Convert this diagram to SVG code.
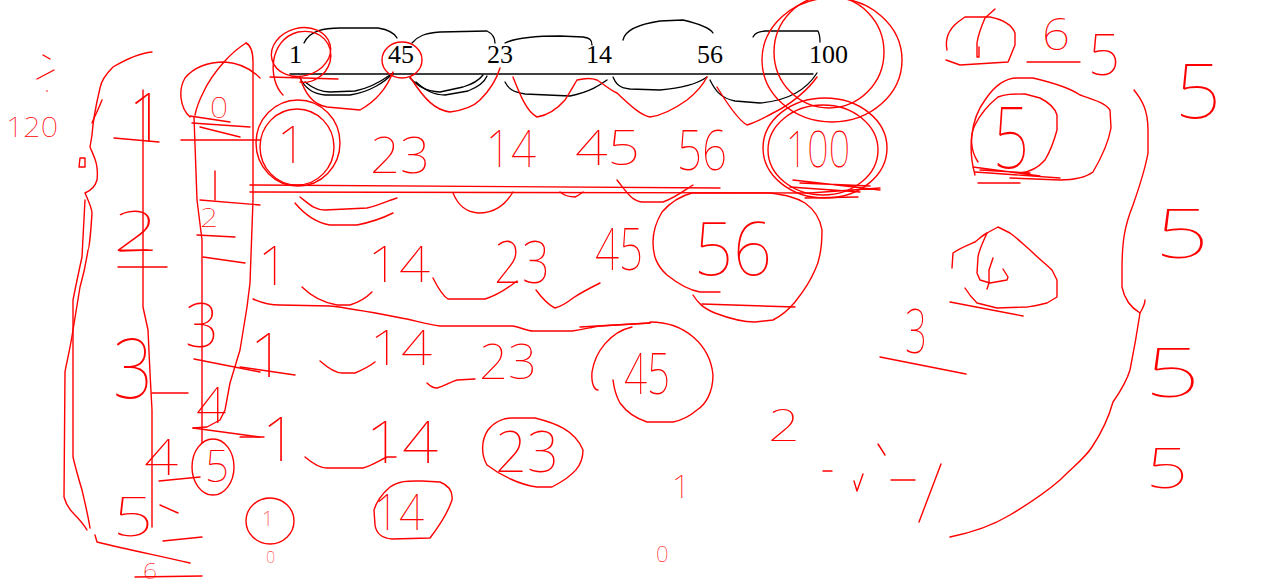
<svg xmlns="http://www.w3.org/2000/svg" width="1261" height="586" viewBox="0 0 1261 586">
<style>
.r{fill:none;stroke:#ff0000;stroke-width:1.4;stroke-linecap:round;stroke-linejoin:round}
.k{fill:none;stroke:#000;stroke-width:1.3;stroke-linecap:round;stroke-linejoin:round}
.t{font-family:"Liberation Serif",serif;font-size:26px;fill:#000}
.h{font-family:"Noto Sans","DejaVu Sans",sans-serif;font-weight:100;fill:#ff0000}
</style>
<rect width="1261" height="586" fill="#fff"/>
<g id="printed-row">
<text class="t" x="289" y="63">1</text>
<text class="t" x="388" y="63">45</text>
<text class="t" x="487" y="63">23</text>
<text class="t" x="586" y="63">14</text>
<text class="t" x="697" y="63">56</text>
<text class="t" x="809" y="63">100</text>
</g>
<g id="connectors">
<path class="k" d="M290 74 L813 74"/>
<path class="k" d="M304 43 C310 30 325 28 340 28 L378 28 C390 30 395 34 397 38"/>
<path class="k" d="M412 43 C418 36 425 33 440 32 L487 31 C493 34 495 38 495 43"/>
<path class="k" d="M505 43 C515 38 535 36 560 36 L583 37 C590 38 592 40 592 45"/>
<path class="k" d="M623 40 C625 30 640 24 660 21 L683 20 C700 24 710 28 713 33"/>
<path class="k" d="M753 37 C755 33 758 32 765 31 L818 31 C820 35 820 38 820 42"/>
<path class="k" d="M300 78 C305 88 312 94 325 95 L350 95 C370 92 385 82 393 73"/>
<path class="k" d="M305 82 C315 90 322 92 330 92 L355 91 C370 88 383 80 390 75"/>
<path class="k" d="M410 78 C418 86 425 91 440 92 L463 87 C473 84 480 79 483 75"/>
<path class="k" d="M416 82 C425 90 433 95 445 95 L468 91 C478 87 485 81 487 76"/>
<path class="k" d="M505 82 C508 88 512 92 525 94 L570 96 C590 92 600 85 607 80"/>
<path class="k" d="M613 77 C615 82 618 88 630 89 L660 90 C685 88 700 82 707 77"/>
<path class="k" d="M710 80 C715 90 720 98 735 101 L760 103 C785 101 805 92 817 73"/>
</g>
<g id="scribbles">
<ellipse class="r" cx="301" cy="52" rx="30" ry="24" transform="rotate(-15 301 52)"/>
<path class="r" d="M283 95 C268 80 268 40 298 32 C322 28 334 45 330 62 C326 76 312 84 300 82"/>
<ellipse class="r" cx="402" cy="60" rx="20" ry="18"/>
<path class="r" d="M270 77 L338 79"/>
<path class="r" d="M300 77 C305 95 315 105 327 107 L360 110 C378 100 388 85 393 72"/>
<path class="r" d="M410 77 C425 100 435 110 450 112 C465 110 475 105 480 100 C490 90 497 78 500 68"/>
<path class="r" d="M513 77 C520 95 527 112 537 117 C550 115 558 108 565 100 C570 92 574 85 577 80 C585 78 592 78 597 80 C605 85 610 90 617 93 C630 105 640 115 650 117 C665 115 680 105 687 100 C697 92 703 85 707 77"/>
<path class="r" d="M717 87 C728 105 738 120 747 125 C758 122 765 117 773 113 C790 105 808 90 817 77"/>
<ellipse class="r" cx="832" cy="60" rx="70" ry="62"/>
<ellipse class="r" cx="829" cy="52" rx="55" ry="56"/>
<ellipse class="r" cx="825" cy="148" rx="62" ry="50"/>
<ellipse class="r" cx="823" cy="150" rx="55" ry="45"/>
<path class="r" d="M793 180 L880 190 M800 183 L870 186 M790 187 L860 192 M810 193 L880 188 M805 198 L858 197"/>
<ellipse class="r" cx="298" cy="143" rx="42" ry="43"/>
<ellipse class="r" cx="297" cy="147" rx="37" ry="38"/>
<path class="r" d="M250 185 L720 188 M250 192 L810 193"/>
<path class="r" d="M295 203 C305 215 318 223 330 225 L357 225 C372 222 385 217 393 213"/>
<path class="r" d="M300 197 C310 205 315 210 325 210 L367 208 C380 205 390 200 397 198"/>
<path class="r" d="M453 193 C458 205 465 212 478 213 C495 213 505 205 513 192"/>
<path class="r" d="M560 192 C565 196 570 197 575 197 C578 196 580 194 583 192"/>
<path class="r" d="M617 180 C625 190 632 202 643 202 L663 202 C675 198 685 190 693 185"/>
<path class="r" d="M302 287 C310 295 320 302 337 305 L350 305 C360 302 367 297 372 292"/>
<path class="r" d="M433 278 C438 288 443 296 448 299 L485 299 C498 295 508 288 517 281"/>
<path class="r" d="M536 290 C542 298 548 305 555 308 C562 306 568 302 573 298 C582 292 592 287 600 283"/>
<path class="r" d="M253 299 C260 302 268 305 280 305 L330 306 C350 308 370 312 407 319 C420 322 430 325 440 326 L513 326 C522 328 528 331 533 331 L572 331 C585 329 592 327 600 326 L650 323"/>
<path class="r" d="M692 193 C680 196 670 203 662 212 C656 222 653 232 653 242 C653 255 656 265 667 275 C677 283 688 290 700 292 L720 292"/>
<path class="r" d="M693 295 C698 303 703 308 715 313 C728 318 740 322 755 322 L773 320 C783 315 790 308 795 302 C803 292 810 282 815 270 C820 260 822 245 822 230 C820 218 815 210 805 203 C795 197 785 195 770 193 L693 193"/>
<path class="r" d="M702 304 L795 307"/>
<path class="r" d="M240 367 L295 375"/>
<path class="r" d="M320 361 C328 368 335 373 342 373 L355 373 C362 370 370 366 375 362"/>
<path class="r" d="M427 383 C430 386 434 388 437 388 C445 386 450 382 457 380 L475 379"/>
<path class="r" d="M632 327 C610 332 595 352 592 372 C591 385 595 390 598 390"/>
<path class="r" d="M650 322 C685 322 710 345 713 375 C713 393 705 405 697 410 C690 416 683 420 673 422 L647 422 C635 418 625 410 620 403 C616 396 614 388 613 380"/>
<path class="r" d="M580 327 L650 323"/>
<path class="r" d="M240 437 L264 437"/>
<path class="r" d="M305 457 C312 463 320 468 327 468 L363 468 C373 465 380 460 387 457 L396 457"/>
<path class="r" d="M488 430 C495 421 505 418 512 418 L535 418 C555 423 575 430 583 450 C583 465 575 475 552 487 L537 487 C520 485 500 475 487 465 C481 455 481 440 488 430 Z"/>
<ellipse class="r" cx="270" cy="521" rx="24" ry="23"/>
<path class="r" d="M390 487 C400 480 410 481 422 481 L440 482 C450 486 453 492 452 500 C448 512 440 525 430 538 L392 539 C380 538 376 532 375 525 L374 510 C377 500 383 493 390 487 Z"/>
<path class="r" d="M152 52 C140 53 125 60 113 67 C106 74 101 82 100 88 C96 105 93 120 92 135 L90 147 C93 155 99 163 97 180 C95 187 90 191 85 193 C88 200 92 208 92 213 C91 230 89 250 88 250 C85 270 82 280 80 287 C77 305 75 318 73 330 C70 350 66 365 65 372 L64 497 C66 505 70 510 74 514 C80 520 84 525 87 530"/>
<path class="r" d="M102 100 C98 110 94 118 92 123 M85 200 L82 257 C78 275 75 290 73 300 L73 457 C76 470 79 480 82 490 C85 503 88 515 90 528"/>
<path class="r" d="M80 158 L85 158 L85 167 L79 167 Z"/>
<path class="r" d="M143 90 L143 307 L148 330 L150 373 L152 410 L152 527"/>
<path class="r" d="M114 138 L159 142"/>
<path class="r" d="M194 117 L197 200 L202 240 L202 443"/>
<path class="r" d="M215 171 L215 200"/>
<path class="r" d="M246 43 C238 48 232 53 224 62 C215 72 208 82 203 93 C198 103 196 110 195 115"/>
<path class="r" d="M246 43 C250 45 253 52 253 62 L253 200 L250 283 L247 307 L240 350 L230 383 L225 410 L220 420 L207 427 L193 428"/>
<path class="r" d="M190 117 C180 108 178 90 185 78 C195 66 210 62 225 62 C240 63 252 70 260 78"/>
<path class="r" d="M190 116 L230 122 M192 123 L250 127 M200 127 L240 137 M181 140 L260 140 M200 200 L260 205 M197 235 L235 237 M203 257 L245 263 M194 359 L260 372 M193 428 L260 437"/>
<path class="r" d="M118 267 L167 267 M120 251 L148 250 M152 393 L188 393 M159 481 L200 477 M160 505 L178 513 M163 541 L202 537 M135 577 L202 576"/>
<path class="r" d="M95 535 L97 542 C130 550 160 556 190 563"/>
<ellipse class="r" cx="213" cy="467" rx="21" ry="28"/>
<path class="r" d="M43 55 L50 59 M37 79 L54 70"/>
<circle cx="47" cy="91" r="0.8" fill="#ff0000"/>
<path class="r" d="M947 50 C945 40 948 30 958 22 L965 17 L990 17 C1005 20 1012 25 1015 33 L1015 45 C1012 52 1010 58 1008 62 L960 65 L946 60"/>
<path class="r" d="M995 9 L985 18 C982 25 978 35 977 43 L977 57 L979 57 L979 47"/>
<path class="r" d="M1027 62 L1080 62"/>
<path class="r" d="M975 175 C968 150 970 120 985 100 C995 85 1005 78 1017 78 L1033 78 C1050 82 1070 88 1080 95 C1095 100 1105 103 1110 110 L1111 128 C1108 145 1100 160 1093 172 C1085 178 1075 180 1060 180 L1010 178"/>
<path class="r" d="M978 162 C970 150 970 135 975 125 C980 115 988 105 998 97 C1005 94 1012 94 1025 94 L1040 98 C1050 103 1055 108 1057 115 L1057 130 C1053 145 1048 155 1045 160 C1038 168 1030 172 1020 173"/>
<path class="r" d="M973 167 L1040 176 M975 172 L1060 178 M978 183 L1020 183 M980 170 L1030 173"/>
<path class="r" d="M952 268 L953 253 C960 248 968 245 975 242 C980 238 983 235 987 233 L998 227 L1010 233 C1017 238 1023 244 1030 250 C1038 258 1046 264 1052 270 L1057 280 L1057 297 L1047 303 C1040 305 1033 306 1027 307 L997 308 L977 303 C972 298 968 293 965 288"/>
<path class="r" d="M987 233 C983 242 979 250 978 257 L977 273 L980 280 L990 283 L1007 280 L1008 277 L1003 269"/>
<path class="r" d="M993 258 L989 270 L989 283 L987 289"/>
<path class="r" d="M950 302 L1023 316"/>
<path class="r" d="M880 357 L966 374"/>
<path class="r" d="M1134 90 C1142 100 1148 110 1148 130 L1148 153 C1145 170 1140 185 1133 205 C1125 225 1122 240 1122 270 L1122 287 C1124 297 1130 307 1140 313 C1143 308 1145 303 1145 300"/>
<path class="r" d="M1140 313 C1137 333 1134 350 1130 370 C1127 380 1120 392 1113 402 C1108 420 1100 435 1092 447 C1085 458 1075 465 1060 480 C1045 493 1030 503 1010 515 C990 527 970 533 950 537"/>
<path class="r" d="M878 444 L885 455 M823 471 L832 471 M854 481 L857 491 L863 474 M891 480 L915 480 M941 464 L930 493 L919 522"/>
</g>
<g id="handwritten">
<text class="h" x="277" y="163" font-size="52">1</text>
<text class="h" x="370" y="173" font-size="50" textLength="60" lengthAdjust="spacingAndGlyphs">23</text>
<text class="h" x="486" y="167" font-size="52" textLength="50" lengthAdjust="spacingAndGlyphs">14</text>
<text class="h" x="575" y="165" font-size="48" textLength="65" lengthAdjust="spacingAndGlyphs">45</text>
<text class="h" x="677" y="170" font-size="56" textLength="50" lengthAdjust="spacingAndGlyphs">56</text>
<text class="h" x="786" y="167" font-size="50" textLength="64" lengthAdjust="spacingAndGlyphs">100</text>
<text class="h" x="258" y="285" font-size="54">1</text>
<text class="h" x="368" y="282" font-size="50" textLength="62" lengthAdjust="spacingAndGlyphs">14</text>
<text class="h" x="494" y="283" font-size="60" textLength="56" lengthAdjust="spacingAndGlyphs">23</text>
<text class="h" x="595" y="270" font-size="60" textLength="48" lengthAdjust="spacingAndGlyphs">45</text>
<text class="h" x="694" y="275" font-size="74" textLength="78" lengthAdjust="spacingAndGlyphs">56</text>
<text class="h" x="250" y="377" font-size="62">1</text>
<text class="h" x="370" y="365" font-size="48" textLength="62" lengthAdjust="spacingAndGlyphs">14</text>
<text class="h" x="479" y="379" font-size="48" textLength="58" lengthAdjust="spacingAndGlyphs">23</text>
<text class="h" x="624" y="394" font-size="58" textLength="46" lengthAdjust="spacingAndGlyphs">45</text>
<text class="h" x="262" y="461" font-size="62">1</text>
<text class="h" x="366" y="463" font-size="60" textLength="72" lengthAdjust="spacingAndGlyphs">14</text>
<text class="h" x="495" y="472" font-size="58" textLength="64" lengthAdjust="spacingAndGlyphs">23</text>
<text class="h" x="262" y="526" font-size="20">1</text>
<text class="h" x="266" y="563" font-size="16">0</text>
<text class="h" x="374" y="530" font-size="50" textLength="50" lengthAdjust="spacingAndGlyphs">14</text>
<text class="h" x="672" y="498" font-size="32">1</text>
<text class="h" x="656" y="562" font-size="22">0</text>
<text class="h" x="768" y="441" font-size="44" textLength="32" lengthAdjust="spacingAndGlyphs">2</text>
<text class="h" x="905" y="353" font-size="62" textLength="22" lengthAdjust="spacingAndGlyphs">3</text>
<text class="h" x="1042" y="50" font-size="44" textLength="28" lengthAdjust="spacingAndGlyphs">6</text>
<text class="h" x="1088" y="75" font-size="58" textLength="32" lengthAdjust="spacingAndGlyphs">5</text>
<text class="h" x="993" y="168" font-size="86" textLength="36" lengthAdjust="spacingAndGlyphs">5</text>
<text class="h" x="1175" y="118" font-size="76" textLength="46" lengthAdjust="spacingAndGlyphs">5</text>
<text class="h" x="1155" y="258" font-size="68" textLength="54" lengthAdjust="spacingAndGlyphs">5</text>
<text class="h" x="1145" y="397" font-size="68" textLength="55" lengthAdjust="spacingAndGlyphs">5</text>
<text class="h" x="1146" y="488" font-size="56" textLength="42" lengthAdjust="spacingAndGlyphs">5</text>
<text class="h" x="128" y="142" font-size="68">1</text>
<text class="h" x="113" y="251" font-size="56" textLength="46" lengthAdjust="spacingAndGlyphs">2</text>
<text class="h" x="113" y="398" font-size="84" textLength="40" lengthAdjust="spacingAndGlyphs">3</text>
<text class="h" x="144" y="475" font-size="50" textLength="34" lengthAdjust="spacingAndGlyphs">4</text>
<text class="h" x="113" y="536" font-size="54" textLength="40" lengthAdjust="spacingAndGlyphs">5</text>
<text class="h" x="143" y="579" font-size="22" textLength="14" lengthAdjust="spacingAndGlyphs">6</text>
<text class="h" x="210" y="118" font-size="30" textLength="18" lengthAdjust="spacingAndGlyphs">0</text>
<text class="h" x="200" y="227" font-size="26" textLength="18" lengthAdjust="spacingAndGlyphs">2</text>
<text class="h" x="185" y="347" font-size="62" textLength="34" lengthAdjust="spacingAndGlyphs">3</text>
<text class="h" x="196" y="423" font-size="50" textLength="30" lengthAdjust="spacingAndGlyphs">4</text>
<text class="h" x="205" y="482" font-size="44" textLength="24" lengthAdjust="spacingAndGlyphs">5</text>
<text class="h" x="6" y="137" font-size="28" textLength="52" lengthAdjust="spacingAndGlyphs">120</text>
</g>
</svg>
